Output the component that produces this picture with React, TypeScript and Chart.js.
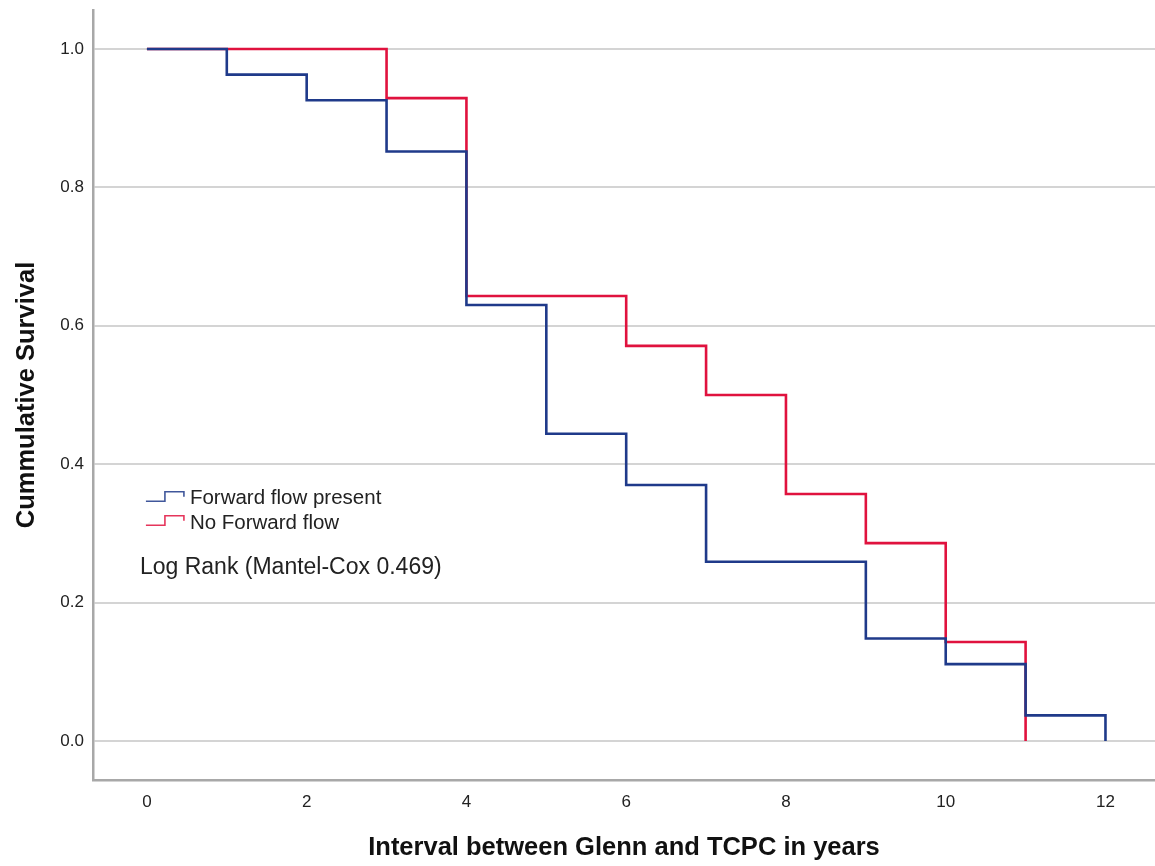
import React, { useEffect, useRef } from "react";
import { Chart, registerables } from "chart.js";

Chart.register(...registerables);

// Kaplan–Meier step points (time in years, cumulative survival after event)
const forwardTimes = [0, 1, 2, 3, 4, 5, 6, 7, 9, 10, 11, 12];
const forwardSurvival = [1.0, 0.963, 0.926, 0.852, 0.63, 0.444, 0.37, 0.259, 0.148, 0.111, 0.037, 0.0];

const noForwardTimes = [0, 3, 4, 6, 7, 8, 9, 10, 11];
const noForwardSurvival = [1.0, 0.929, 0.643, 0.571, 0.5, 0.357, 0.286, 0.143, 0.0];

const xTicks = [0, 2, 4, 6, 8, 10, 12];
const yTicks = [0.0, 0.2, 0.4, 0.6, 0.8, 1.0];

const seriesNames = ["Forward flow present", "No Forward flow"];
const annotationText = "Log Rank (Mantel-Cox 0.469)";
const xTitle = "Interval between Glenn and TCPC in years";
const yTitle = "Cummulative Survival";

const BLUE = "#1f3a8a";
const RED = "#e0123e";
const FONT = "'Liberation Sans', Arial, sans-serif";

const legendPlugin = {
  id: "kmLegend",
  afterDraw(chart: any) {
    const ctx = chart.ctx as CanvasRenderingContext2D;
    const xs = chart.scales.x;
    const ys = chart.scales.y;
    const x0 = xs.getPixelForValue(0);
    const base = ys.getPixelForValue(0.4);
    const drawIcon = (yLow: number, color: string) => {
      ctx.save();
      ctx.strokeStyle = color;
      ctx.globalAlpha = 0.85;
      ctx.lineWidth = 1.6;
      ctx.beginPath();
      ctx.moveTo(x0 - 1, yLow);
      ctx.lineTo(x0 + 18, yLow);
      ctx.lineTo(x0 + 18, yLow - 9.5);
      ctx.lineTo(x0 + 37, yLow - 9.5);
      ctx.lineTo(x0 + 37, yLow - 4.5);
      ctx.stroke();
      ctx.restore();
    };
    drawIcon(base + 37, BLUE);
    drawIcon(base + 61, RED);
    ctx.save();
    ctx.fillStyle = "#222";
    ctx.font = `20.5px ${FONT}`;
    ctx.textBaseline = "middle";
    ctx.textAlign = "left";
    ctx.fillText(seriesNames[0], x0 + 43, base + 34);
    ctx.fillText(seriesNames[1], x0 + 43, base + 59);
    ctx.font = `23px ${FONT}`;
    ctx.fillText(annotationText, x0 - 7, base + 103);
    ctx.restore();
  },
};

export default function App() {
  const ref = useRef<HTMLCanvasElement | null>(null);

  useEffect(() => {
    document.body.style.margin = "0";
    const canvas = ref.current;
    if (!canvas) return;
    const chart = new Chart(canvas, {
      type: "line",
      data: {
        datasets: [
          {
            label: seriesNames[0],
            data: forwardTimes.map((t, i) => ({ x: t, y: forwardSurvival[i] })),
            borderColor: BLUE,
            borderWidth: 2.6,
            pointRadius: 0,
            stepped: "before",
            fill: false,
          },
          {
            label: seriesNames[1],
            data: noForwardTimes.map((t, i) => ({ x: t, y: noForwardSurvival[i] })),
            borderColor: RED,
            borderWidth: 2.6,
            pointRadius: 0,
            stepped: "before",
            fill: false,
          },
        ],
      },
      options: {
        responsive: false,
        animation: false,
        layout: { padding: { top: 10, right: 0, left: 0, bottom: 0 } },
        plugins: {
          legend: { display: false },
          tooltip: { enabled: false },
        },
        scales: {
          x: {
            type: "linear",
            min: -0.675,
            max: 12.62,
            afterBuildTicks: (s: any) => {
              s.ticks = xTicks.map((v) => ({ value: v }));
            },
            afterFit: (s: any) => {
              s.height = 86;
              s.paddingLeft = 0;
              s.paddingRight = 0;
            },
            ticks: {
              color: "#222",
              font: { family: FONT, size: 17 },
              padding: 12,
              maxRotation: 0,
              callback: (v: any) => String(v),
            },
            grid: { display: false, drawTicks: false },
            border: { display: true, color: "#a8a8a8", width: 2.5 },
            title: {
              display: true,
              text: xTitle,
              color: "#111",
              font: { family: FONT, size: 25.5, weight: "bold" },
              padding: { top: 0, bottom: 3 },
            },
          },
          y: {
            type: "linear",
            min: -0.0564,
            max: 1.0564,
            afterBuildTicks: (s: any) => {
              s.ticks = yTicks.map((v) => ({ value: v }));
            },
            afterFit: (s: any) => {
              s.width = 93;
              s.paddingTop = 0;
              s.paddingBottom = 0;
            },
            ticks: {
              color: "#222",
              font: { family: FONT, size: 17 },
              padding: 9,
              callback: (v: any) => Number(v).toFixed(1),
            },
            grid: { display: true, drawTicks: false, color: "#d4d4d4", lineWidth: 2 },
            border: { display: true, color: "#a8a8a8", width: 2.5 },
            title: {
              display: true,
              text: yTitle,
              color: "#111",
              font: { family: FONT, size: 25.5, weight: "bold" },
              padding: { top: 12, bottom: 0 },
            },
          },
        },
      },
      plugins: [legendPlugin],
    });
    return () => chart.destroy();
  }, []);

  return (
    <div style={{ position: "absolute", left: 0, top: 0, width: 1155, height: 866, background: "#fff" }}>
      <canvas ref={ref} width={1155} height={866} />
    </div>
  );
}
